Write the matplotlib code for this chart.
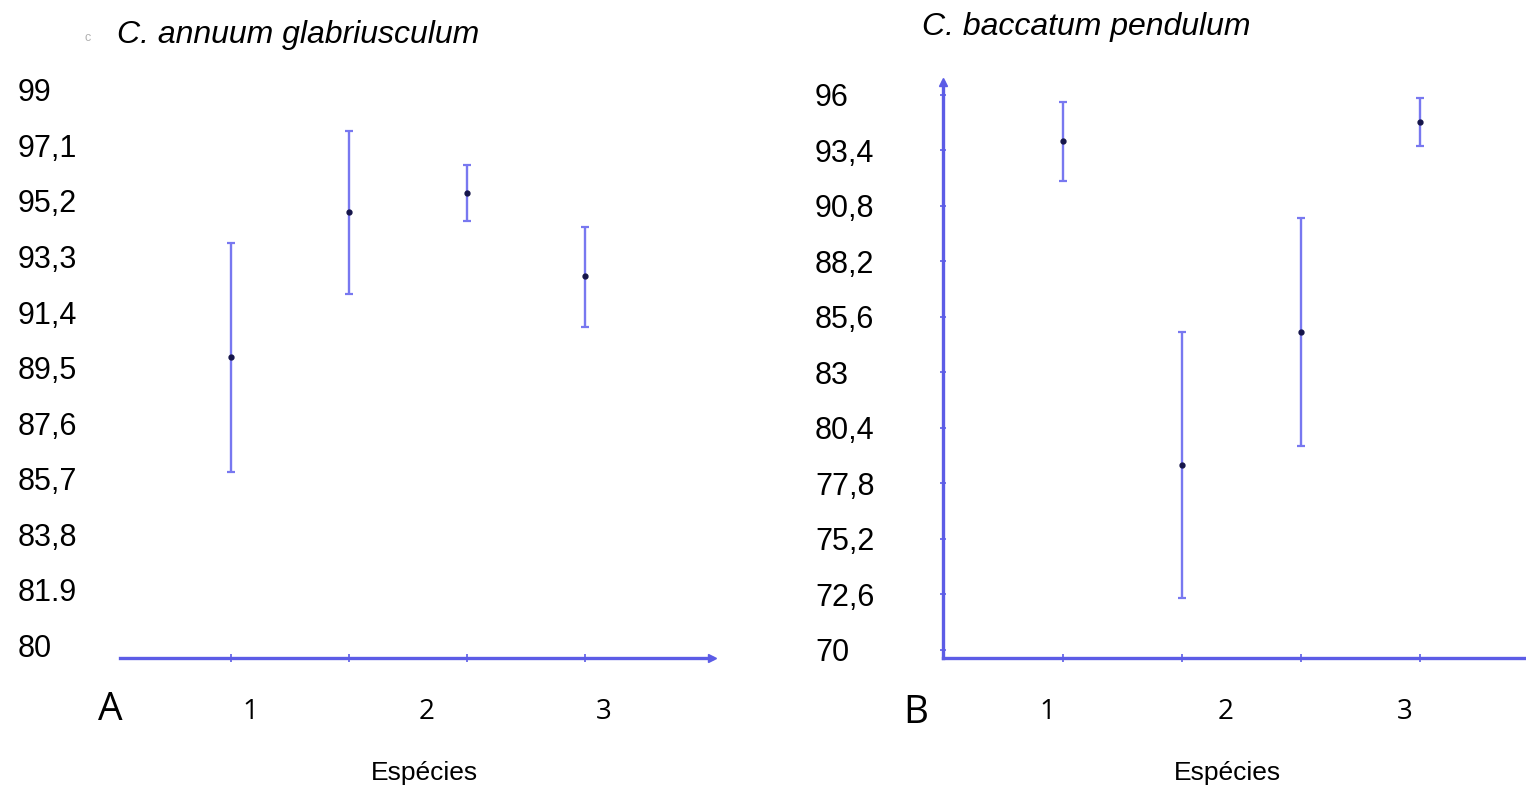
import matplotlib
matplotlib.use("Agg")
import matplotlib.pyplot as plt

plt.rcParams['font.family'] = ['Liberation Sans', 'DejaVu Sans']

# ---------------- data ----------------
species_pos = [1, 2, 3, 4]

mean_a = [89.85, 94.81, 95.48, 92.63]
upper_a = [93.75, 97.61, 96.43, 94.30]
lower_a = [85.93, 92.02, 94.53, 90.88]

mean_b = [93.85, 78.67, 84.88, 94.72]
upper_b = [95.69, 84.91, 90.25, 95.85]
lower_b = [91.97, 72.42, 79.57, 93.61]

yticks_a = [99, 97.1, 95.2, 93.3, 91.4, 89.5, 87.6, 85.7, 83.8, 81.9, 80]
ylabels_a = ["99", "97,1", "95,2", "93,3", "91,4", "89,5", "87,6", "85,7", "83,8", "81.9", "80"]
yticks_b = [96, 93.4, 90.8, 88.2, 85.6, 83, 80.4, 77.8, 75.2, 72.6, 70]
ylabels_b = ["96", "93,4", "90,8", "88,2", "85,6", "83", "80,4", "77,8", "75,2", "72,6", "70"]

xlabel_pos_a = [1.161, 2.661, 4.161]
xlabel_pos_b = [0.866, 2.370, 3.874]
xlabels = ["1", "2", "3"]

title_a = "C. annuum glabriusculum"
title_b = "C. baccatum pendulum"
xlabel = "Espécies"

# ---------------- style ----------------
AXIS_C = "#5c5ce6"
BAR_C = "#7878f0"
DOT_C = "#15154a"
THIN = ["Open Sans", "Lato", "DejaVu Sans"]

W, H = 1526, 789
fig = plt.figure(figsize=(W / 100, H / 100), dpi=100)


def frac(l, t, r, b):
    return [l / W, 1 - b / H, (r - l) / W, (b - t) / H]


def draw_bars(ax, mean, lower, upper):
    yerr = [[m - lo for m, lo in zip(mean, lower)],
            [u - m for m, u in zip(mean, upper)]]
    ax.errorbar(species_pos, mean, yerr=yerr, fmt="o", color=DOT_C, ms=3.5,
                ecolor=BAR_C, elinewidth=1.7, capsize=3.2, capthick=1.6,
                zorder=3)


# ---------------- panel A ----------------
axA = fig.add_axes(frac(120, 75, 712, 658))
axA.set_xlim(0.0593, 5.0763)
axA.set_ylim(79.555, 99.5135)
for s in ["top", "right", "left"]:
    axA.spines[s].set_visible(False)
axA.spines["bottom"].set_color(AXIS_C)
axA.spines["bottom"].set_linewidth(2.4)
draw_bars(axA, mean_a, lower_a, upper_a)
axA.plot(1, 0, marker=">", transform=axA.transAxes, clip_on=False,
         color=AXIS_C, ms=6)

axA.set_yticks(yticks_a, ylabels_a)
axA.tick_params(axis="y", length=0, pad=73.4, labelsize=22)
for lab in axA.get_yticklabels():
    lab.set_horizontalalignment("left")

axA.set_xticks(xlabel_pos_a, xlabels)
axA.set_xticks(species_pos, minor=True)
axA.tick_params(axis="x", which="major", length=0, pad=29, labelsize=20)
axA.tick_params(axis="x", which="minor", direction="inout", length=6,
                width=1.2, color=AXIS_C)
for lab in axA.get_xticklabels():
    lab.set_fontfamily(THIN)

axA.set_xlabel(xlabel, fontsize=19)
axA.xaxis.set_label_coords((424 - 120) / 592, (658 - 761) / 583)
axA.set_title(title_a, loc="left", fontsize=23, style="italic", pad=23,
              x=-0.005)

fig.text(110 / W, 1 - 710 / H, "A", ha="center", va="center", fontsize=28,
         family=THIN)
fig.text(88 / W, 1 - 38 / H, "c", ha="center", va="center", fontsize=9,
         color="#b0b0b0")

# ---------------- panel B ----------------
axB = fig.add_axes(frac(943, 82, 1526, 658))
axB.set_xlim(-0.0084, 4.8908)
axB.set_ylim(69.625, 96.609)
for s in ["top", "right"]:
    axB.spines[s].set_visible(False)
for s in ["bottom", "left"]:
    axB.spines[s].set_color(AXIS_C)
    axB.spines[s].set_linewidth(2.4)
draw_bars(axB, mean_b, lower_b, upper_b)
axB.plot(0, 1, marker="^", transform=axB.transAxes, clip_on=False,
         color=AXIS_C, ms=6)

axB.set_yticks(yticks_b, ylabels_b)
axB.tick_params(axis="y", direction="inout", length=5, width=1.2,
                color=AXIS_C, pad=89.7, labelsize=22)
for lab in axB.get_yticklabels():
    lab.set_horizontalalignment("left")

axB.set_xticks(xlabel_pos_b, xlabels)
axB.set_xticks(species_pos, minor=True)
axB.tick_params(axis="x", which="major", length=0, pad=29, labelsize=20)
axB.tick_params(axis="x", which="minor", direction="inout", length=6,
                width=1.2, color=AXIS_C)
for lab in axB.get_xticklabels():
    lab.set_fontfamily(THIN)

axB.set_xlabel(xlabel, fontsize=19)
axB.xaxis.set_label_coords((1227 - 943) / 583, (658 - 761) / 576)
axB.set_title(title_b, loc="left", fontsize=23, style="italic", pad=34,
              x=(922 - 943) / 583)

fig.text(916 / W, 1 - 713 / H, "B", ha="center", va="center", fontsize=28,
         family=THIN)

fig.savefig("out.png", dpi=100)
